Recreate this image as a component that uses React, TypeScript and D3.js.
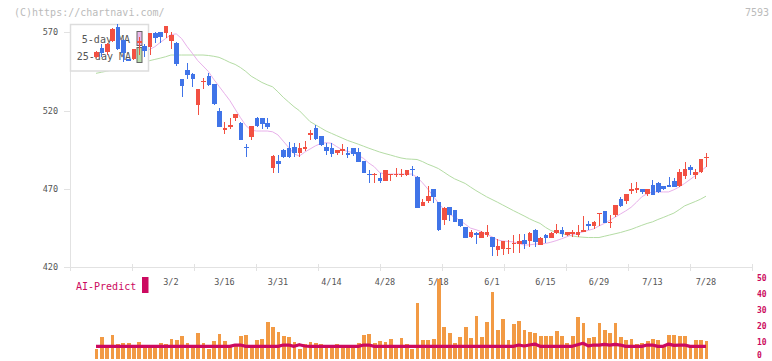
import React, { useEffect, useRef } from 'react';
import * as d3 from 'd3';

const W = 772;
const H = 361;

// daily candles, oldest first (index 0 .. 114)
const opens = [554.0, 560, 557.4, 564.6, 573.6, 565, 552.7, 552.7, 563.4, 561.2, 560.8, 569.7, 570.2, 569.4, 564.6, 563.4, 540.2, 545.9, 543.5, 523.7,
  538, 542.1, 537, 519.9, 507.6, 509.7, 515.2, 512.2, 496.9, 503.3, 515.2, 515.2, 512.2, 483.3, 488, 494.8, 496.1, 496.9, 493.1, 495.9,
  504.6, 508.8, 503.7, 496.9, 496.1, 492.7, 494.3, 493.1, 495.9, 493.7, 487.8, 479.5, 478.8, 477.1, 475.4, 478.6, 478.6, 478.6, 478.8, 482.7,
  477.5, 459.2, 462.2, 469.9, 461.8, 450.3, 458.4, 456.3, 450.7, 445.6, 439.2, 442, 439, 440.7, 439.4, 431.3, 431.7, 431.6, 434.7, 434.7,
  437.3, 436.5, 443.7, 434.3, 440.7, 439, 442, 443.7, 440.3, 441.6, 440.3, 443.2, 447.5, 446.2, 453.9, 456, 448.6, 453.1, 463.7, 462.4,
  469.4, 469.2, 469.7, 467.1, 472.6, 473.9, 471.8, 472.6, 475.2, 471.8, 478.2, 484.1, 479, 480.7, 490];
const highs = [558, 562.5, 563, 572.5, 575.3, 565.5, 553, 559.5, 567.2, 562.5, 569.6, 570.4, 570.5, 574.2, 570.2, 563.6, 540.5, 550.6, 543.8, 534,
  540.8, 543.8, 537.3, 522, 512.7, 515.2, 518, 512.5, 498.6, 510.3, 516, 515.5, 515.2, 491.6, 491.6, 495.2, 500, 499.4, 499.4, 500.4,
  507.6, 511, 504, 499.4, 499.4, 495, 498.6, 497, 496, 496, 488, 481.9, 479.9, 480, 482.4, 479.7, 483.5, 482.5, 482.4, 484.6,
  478, 463.8, 471.6, 470.2, 462, 458.2, 458.6, 456.5, 451, 445.8, 444, 442.3, 443, 447, 439.6, 438, 437, 437.5, 440.5, 441,
  441, 442.3, 444.5, 439.3, 441, 442.3, 447.5, 445.7, 442.6, 444, 446.7, 453, 449.5, 449.4, 454.9, 456.2, 453.5, 459.7, 465, 467,
  474, 474.5, 470, 470, 475.5, 474.7, 472, 477.7, 477, 482.5, 487.3, 485, 483, 489.4, 493];
const lows = [553.5, 554, 555.3, 564, 559, 551, 551.5, 552.5, 555.5, 554, 555.7, 563, 563, 566.4, 559.1, 548.5, 528.9, 540.2, 535.2, 517.4,
  533.6, 536, 523.5, 509.3, 505, 508.4, 513.5, 501, 490.5, 501.2, 509.5, 508, 508, 480.3, 480.3, 490, 490, 490.5, 490.5, 494.3,
  501.2, 501.5, 497.5, 491.8, 490.5, 492, 492, 489.5, 491, 487, 480, 474, 474, 474, 475.2, 475, 477.9, 477.9, 478.5, 478.5,
  457.7, 459, 461, 461, 443, 447, 449.5, 448.7, 446, 438.5, 438.6, 435, 438.8, 439.4, 427, 427, 428, 428.6, 429, 429,
  432, 433, 433, 434, 435.6, 438.8, 441.5, 439.3, 440, 439.3, 439.3, 443, 444, 444.5, 446.5, 448, 445, 452, 458.8, 460.7,
  466.6, 467.5, 466.5, 465.8, 466, 467.5, 469.5, 471, 471, 471.5, 476.5, 479, 476.5, 480.5, 484];
const closes = [557.4, 557, 562.5, 572.1, 559.5, 556.6, 551.9, 559.1, 564.6, 557.9, 569.4, 566.4, 566.8, 574, 568.5, 549.7, 535.7, 542.9, 540.4, 533.6,
  538.9, 536.5, 524.2, 509.7, 508.8, 511, 517.8, 501.2, 495.9, 510.1, 510.1, 511.4, 509.7, 491, 485.8, 490.5, 490.5, 492.7, 496.1, 496.7,
  505.8, 501.6, 498.2, 494, 492.2, 494.8, 495.2, 491.4, 492.4, 487.3, 480.1, 478.6, 479.7, 475.4, 482.2, 479.5, 479.5, 479.5, 482.2, 481.8,
  458, 461.8, 465.6, 464.8, 443.5, 458, 453.3, 449, 446.4, 438.8, 442.6, 440.3, 442.4, 442.4, 433, 433.5, 436.8, 432.4, 435.6, 436.8,
  434.7, 442, 436, 439, 439, 442, 443.7, 441.1, 442.4, 442.4, 442.7, 443.7, 446.2, 449.2, 454.7, 448.3, 449.2, 459.5, 459, 466.7,
  469.9, 470.5, 468, 469.7, 466.2, 468, 469.7, 471.3, 471.3, 480.7, 482.8, 482, 480.7, 489.2, 490.5];

const ma5 = [556, 556.5, 557, 558.5, 560, 560, 559.5, 558.5, 557.5, 557, 559, 560.8, 563.5, 566, 568.5, 569, 566, 561, 556.6, 552,
  548.5, 545, 540, 535.5, 531, 526.5, 521, 515.5, 510.5, 507.5, 507, 507, 507, 506.5, 504.5, 500.5, 496.5, 492.5, 491, 493.5,
  495.5, 497.5, 499, 499.5, 499.2, 497, 495, 494, 493.2, 491.5, 489.5, 486.5, 484.2, 480.5, 479.5, 479.5, 479.5, 479.5, 479.5, 479.5,
  477.5, 474, 470, 465.5, 461, 457, 454, 452, 450, 447.5, 445, 444, 442.8, 441, 439.5, 437.5, 436.8, 436.5, 436.2, 435.3,
  434.2, 434.3, 434.8, 435, 435.2, 436, 437, 438.2, 439.5, 440.8, 441.6, 442.6, 443.6, 444.5, 446.4, 448, 450, 452, 454, 456,
  458.3, 461.5, 465, 467, 468.1, 468.1, 468.1, 468.1, 469.5, 471.3, 473.5, 476, 478.5, 481.3, 484.1];
const ma25 = [543.8, 544.5, 545.2, 545.9, 546.6, 547.3, 548, 549, 550, 551, 551.9, 552.7, 553.5, 554.4, 555.5, 555.5, 555.5, 555.5, 555.5, 555.5,
  555.5, 555.2, 554.7, 554, 552.5, 550.8, 549.5, 547.5, 545, 542, 540, 538, 536.5, 535.2, 532, 528.5, 525.5, 522.5, 520, 516.5,
  513, 511, 509, 507, 505.5, 504, 502.5, 501, 499.8, 498.6, 497.3, 496, 494.8, 493.6, 492.6, 491.7, 490.7, 489.8, 489.2, 489,
  488.8, 487.5, 485.8, 484.5, 483, 480.8, 478.5, 476.5, 475, 473.5, 471.2, 469, 467, 465, 463.3, 461.6, 459.8, 458, 456.2, 454.5,
  452.8, 451, 449.4, 448, 445.5, 443.5, 442.4, 441.5, 440.7, 440, 439.5, 439.2, 439, 439, 439, 439.8, 440.6, 441.4, 442.2, 443.2,
  444.2, 445.5, 446.8, 448, 449, 450.5, 451.8, 453.2, 454.6, 456.8, 459.2, 460.6, 462, 463.5, 465.4];

const volumes = [5.6, 13.1, 7.5, 14.4, 8.75, 9.4, 9.4, 7.5, 10, 7.5, 7.5, 7.5, 9.4, 8.75, 11.9, 11.25, 13.75, 9.4, 7.5, 15.6,
  9.4, 5.6, 10.6, 15, 10.6, 7.5, 7.5, 13.75, 14.4, 7.5, 11.25, 11.9, 22.5, 19.4, 16.25, 13.75, 13.1, 10, 5.6, 8.75,
  10, 9.4, 8.75, 7.5, 7.5, 8.75, 7.5, 7.5, 7.5, 9.4, 14.4, 15, 9.4, 10.6, 10, 11.9, 7.5, 12.5, 8.75, 5.6,
  34.4, 11.25, 11.25, 11.9, 49.4, 19.4, 15.6, 9.4, 13.1, 19.4, 12.5, 26.25, 13.1, 22.5, 41.25, 17.5, 24.4, 11.25, 21.25, 23.1,
  17.5, 16.25, 15.6, 13.75, 13.75, 13.75, 16.9, 13.75, 9.4, 13.75, 25.6, 21.9, 12.5, 13.1, 21.9, 17.5, 15.6, 21.9, 13.1, 11.25,
  11.9, 8.75, 9.4, 10.6, 11.9, 11.25, 7.5, 14.4, 14.4, 13.75, 13.75, 7.5, 11.25, 11.25, 10.6];
const aiPredict = [7.3, 7.3, 7.3, 7.3, 7.3, 7.3, 7.3, 7.3, 7.3, 7.3, 7.3, 7.3, 7.3, 7.3, 7.3, 7.3, 7.3, 7.3, 7.3, 7.3,
  7.3, 7.3, 7.3, 7.3, 7.3, 7.3, 8.1, 8.1, 7.3, 7.3, 7.3, 7.3, 7.3, 7.3, 7.3, 8.1, 8.1, 7.3, 8.3, 7.5,
  7.3, 7.3, 7.3, 7.3, 7.3, 7.3, 7.3, 7.3, 7.3, 7.3, 8.1, 8.1, 7.3, 7.3, 7.3, 7.3, 7.3, 7.3, 7.3, 7.3,
  7.3, 7.3, 7.3, 7.3, 7.3, 7.3, 7.3, 7.3, 7.3, 7.3, 7.3, 7.3, 7.3, 7.3, 7.3, 7.3, 7.3, 7.3, 7.3, 8.1,
  7.5, 8.1, 8.7, 7.3, 7.3, 7.3, 7.3, 7.3, 7.3, 7.3, 8.3, 9.2, 7.6, 8.1, 8.1, 8.5, 8.1, 8.5, 8.1, 7.3,
  7.3, 7.3, 7.3, 8.1, 8.1, 7.3, 7.3, 8.7, 7.9, 8.1, 8.1, 7.3, 7.3, 7.3, 7.3];

const dateLabels = ['3/2', '3/16', '3/31', '4/14', '4/28', '5/18', '6/1', '6/15', '6/29', '7/13', '7/28'];
const dateLabelIdx = [14, 24, 34, 44, 54, 64, 74, 84, 94, 104, 114];
const priceTicks = [420, 470, 520, 570];
const volTicks = [0, 10, 20, 30, 40, 50];

const UP = '#f25042';
const DOWN = '#4074e8';
const AI = '#cc0a60';
const MONO = '"DejaVu Sans Mono", monospace';

const App = () => {
  const ref = useRef<SVGSVGElement>(null);

  useEffect(() => {
    const svg = d3.select(ref.current);
    svg.selectAll('*').remove();

    const plotL = 70.5;
    const plotR = 752.5;
    const n = closes.length;

    const x = d3.scaleLinear().domain([0, n - 1]).range([96, 706]);
    const y = d3.scaleLinear().domain([420, 570]).range([267.3, 32.3]);
    const yv = d3.scaleLinear().domain([0, 50]).range([358, 278]);

    // header texts
    svg.append('text').attr('x', 14).attr('y', 16).attr('font-size', 10).attr('fill', '#bbb')
      .style('font-family', MONO).text('(C)https://chartnavi.com/');
    svg.append('text').attr('x', 769).attr('y', 16).attr('font-size', 10).attr('fill', '#bbb')
      .attr('text-anchor', 'end').style('font-family', MONO).text('7593');

    // axes
    const axis = svg.append('g').attr('stroke', '#e2e2e2').attr('stroke-width', 1.5).attr('shape-rendering', 'crispEdges');
    axis.append('line').attr('x1', plotL).attr('x2', plotL).attr('y1', 24).attr('y2', 268);
    axis.append('line').attr('x1', plotL).attr('x2', plotR).attr('y1', 267.5).attr('y2', 267.5);
    d3.range(12).forEach((k) => {
      const tx = plotL + k * (plotR - plotL) / 11;
      axis.append('line').attr('x1', tx).attr('x2', tx).attr('y1', 264).attr('y2', 271);
    });
    priceTicks.forEach((p) => {
      axis.append('line').attr('x1', 64).attr('x2', plotL).attr('y1', Math.round(y(p)) + 0.5).attr('y2', Math.round(y(p)) + 0.5);
    });

    svg.append('g').selectAll('text').data(priceTicks).join('text')
      .attr('x', 58).attr('y', (d) => y(d) + 3)
      .attr('text-anchor', 'end').attr('font-size', 8.5).attr('fill', '#555')
      .style('font-family', MONO).text((d) => d);

    svg.append('g').selectAll('text').data(dateLabels).join('text')
      .attr('x', (d, i) => x(dateLabelIdx[i])).attr('y', 285)
      .attr('text-anchor', 'middle').attr('font-size', 8.5).attr('fill', '#555')
      .style('font-family', MONO).text((d) => d);

    // moving averages
    const maLine = d3.line<number>().x((d, i) => x(i)).y((d) => y(d));
    svg.append('path').attr('d', maLine(ma25)).attr('fill', 'none').attr('stroke', '#b4dca4').attr('stroke-width', 1);
    svg.append('path').attr('d', maLine(ma5)).attr('fill', 'none').attr('stroke', '#e8b0ea').attr('stroke-width', 1);

    // legend box (drawn under candles)
    const lg = svg.append('g');
    lg.append('rect').attr('x', 70.5).attr('y', 24.5).attr('width', 78).attr('height', 46.5)
      .attr('fill', '#fff').attr('stroke', '#ddd').attr('stroke-width', 1.5);
    lg.append('text').attr('x', 130).attr('y', 43).attr('text-anchor', 'end').attr('font-size', 10)
      .attr('fill', '#555').style('font-family', MONO).text('5-day MA');
    lg.append('text').attr('x', 131).attr('y', 60).attr('text-anchor', 'end').attr('font-size', 10)
      .attr('fill', '#555').style('font-family', MONO).text('25-day MA');
    lg.append('rect').attr('x', 137).attr('y', 31.5).attr('width', 5).attr('height', 14)
      .attr('fill', '#eab8ea').attr('stroke', '#666').attr('stroke-width', 1);
    lg.append('rect').attr('x', 137).attr('y', 47.5).attr('width', 5).attr('height', 15)
      .attr('fill', '#b8dcaa').attr('stroke', '#666').attr('stroke-width', 1);

    // candles
    const bw = 4.6;
    const cg = svg.append('g').attr('shape-rendering', 'crispEdges');
    const candles = cg.selectAll('g').data(d3.range(n)).join('g')
      .attr('fill', (i) => (closes[i] >= opens[i] ? UP : DOWN))
      .attr('stroke', (i) => (closes[i] >= opens[i] ? UP : DOWN));
    candles.append('line')
      .attr('x1', (i) => Math.round(x(i)) + 0.5).attr('x2', (i) => Math.round(x(i)) + 0.5)
      .attr('y1', (i) => y(highs[i])).attr('y2', (i) => y(lows[i]))
      .attr('stroke-width', 1);
    candles.append('rect')
      .attr('x', (i) => x(i) - bw / 2 + 0.5).attr('width', bw)
      .attr('y', (i) => y(Math.max(opens[i], closes[i])))
      .attr('height', (i) => Math.max(1.4, Math.abs(y(opens[i]) - y(closes[i]))))
      .attr('stroke', 'none');

    // volume
    svg.append('g').attr('shape-rendering', 'crispEdges').selectAll('rect').data(volumes).join('rect')
      .attr('x', (d, i) => x(i) - 1.9 + 0.5).attr('width', 3.8)
      .attr('y', (d) => yv(d)).attr('height', (d) => yv(0) + 1 - yv(d))
      .attr('fill', '#f29a44');

    const aiLine = d3.line<number>().x((d, i) => x(i)).y((d) => yv(d));
    svg.append('path').attr('d', aiLine(aiPredict)).attr('fill', 'none')
      .attr('stroke', AI).attr('stroke-width', 3.2).attr('stroke-linejoin', 'round');

    svg.append('g').selectAll('text').data(volTicks).join('text')
      .attr('x', 757).attr('y', (d) => Math.min(yv(d) + 3, 358))
      .attr('font-size', 8).attr('fill', AI).attr('font-weight', 'bold')
      .style('font-family', MONO).text((d) => d);

    // AI-Predict label
    svg.append('text').attr('x', 76).attr('y', 289.5).attr('font-size', 10).attr('fill', AI)
      .style('font-family', MONO).text('AI-Predict');
    svg.append('rect').attr('x', 142).attr('y', 277).attr('width', 6.5).attr('height', 16).attr('fill', AI);
  }, []);

  return (
    <svg
      ref={ref}
      width={W}
      height={H}
      style={{ position: 'absolute', left: 0, top: 0, background: '#fff' }}
    />
  );
};

export default App;
